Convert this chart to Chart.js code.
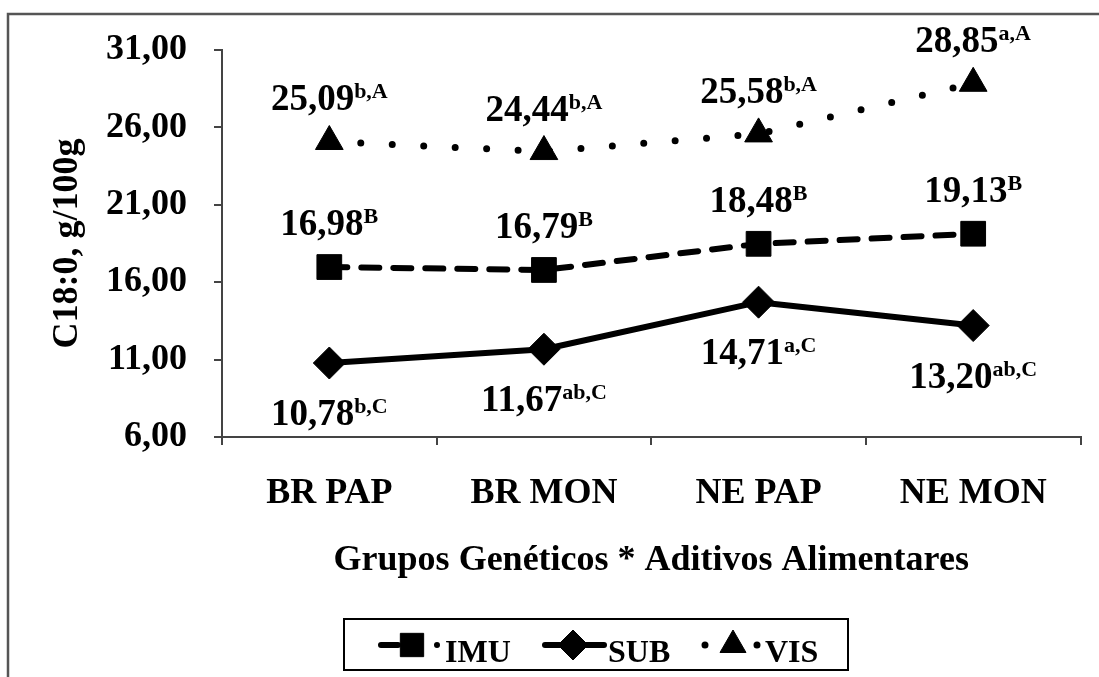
<!DOCTYPE html>
<html>
<head>
<meta charset="utf-8">
<script src="https://cdn.jsdelivr.net/npm/chart.js@4.4.1/dist/chart.umd.min.js"></script>
<style>
  html, body { margin: 0; padding: 0; background: #fff; }
  #wrap { width: 1099px; height: 677px; }
</style>
</head>
<body>
<div id="wrap"><canvas id="grafico" width="1099" height="677"></canvas></div>
<script>
// Dados do gráfico
const categorias = ['BR PAP', 'BR MON', 'NE PAP', 'NE MON'];
const serieImu = [16.98, 16.79, 18.48, 19.13];
const serieSub = [10.78, 11.67, 14.71, 13.20];
const serieVis = [25.09, 24.44, 25.58, 28.85];
const letrasImu = ['B', 'B', 'B', 'B'];
const letrasSub = ['b,C', 'ab,C', 'a,C', 'ab,C'];
const letrasVis = ['b,A', 'b,A', 'b,A', 'a,A'];
const ticksY = [6, 11, 16, 21, 26, 31];

const FONTE = '"Liberation Serif", "Times New Roman", serif';
const cinza = '#444444';

const fmt = v => v.toFixed(2).replace('.', ',');

// estilos de cada série (rótulo acima/abaixo do ponto)
const estilos = [
    { letras: letrasImu, desvio: -32, dash: [18, 14], larg: 6, ponto: 'rect', raio: 17.5 },
    { letras: letrasSub, desvio: 62, dash: [], larg: 6, ponto: 'rectRot', raio: 16 },
    { letras: letrasVis, desvio: -31, dash: [0, 31.5], larg: 7, ponto: 'triangle', raio: 16 }
];

// moldura externa
const moldura = {
    id: 'moldura',
    beforeDraw(chart) {
        const ctx = chart.ctx;
        ctx.save();
        ctx.fillStyle = '#fff';
        ctx.fillRect(0, 0, chart.width, chart.height);
        ctx.strokeStyle = '#555';
        ctx.lineWidth = 2.5;
        ctx.strokeRect(8, 14, 1300, 900);
        ctx.restore();
    }
};

// valores com sobrescrito
const rotulos = {
    id: 'rotulos',
    afterDatasetsDraw(chart) {
        const ctx = chart.ctx;
        ctx.save();
        ctx.fillStyle = '#000';
        ctx.textAlign = 'left';
        ctx.textBaseline = 'alphabetic';
        chart.data.datasets.forEach((ds, i) => {
            const est = estilos[i];
            chart.getDatasetMeta(i).data.forEach((pt, j) => {
                const principal = fmt(ds.data[j]);
                const sup = est.letras[j];
                ctx.font = 'bold 37px ' + FONTE;
                const w1 = ctx.measureText(principal).width;
                ctx.font = 'bold 22px ' + FONTE;
                const w2 = ctx.measureText(sup).width;
                const x0 = pt.x - (w1 + w2) / 2;
                const yb = pt.y + est.desvio;
                ctx.font = 'bold 37px ' + FONTE;
                ctx.fillText(principal, x0, yb);
                ctx.font = 'bold 22px ' + FONTE;
                ctx.fillText(sup, x0 + w1, yb - 12);
            });
        });
        ctx.restore();
    }
};

// legenda em caixa
const legenda = {
    id: 'legenda',
    afterDraw(chart) {
        const ctx = chart.ctx;
        const cy = 645;
        // amostra de linha: traço inicial, marcador, ponto final
        const itens = [
            { xa: 381, xb: 438, xm: 412, xt: 445, dash: [17, 39, 0, 100] },
            { xa: 545, xb: 604, xm: 573, xt: 608, dash: [] },
            { xa: 705, xb: 760, xm: 733, xt: 765, dash: [0, 52, 0, 100] }
        ];
        ctx.save();
        ctx.strokeStyle = '#000';
        ctx.lineWidth = 2;
        ctx.strokeRect(344, 619, 504, 51);
        chart.data.datasets.forEach((ds, i) => {
            const it = itens[i];
            const est = estilos[i];
            ctx.save();
            ctx.strokeStyle = '#000';
            ctx.lineWidth = est.larg;
            ctx.lineCap = 'round';
            ctx.setLineDash(it.dash);
            ctx.beginPath();
            ctx.moveTo(it.xa, cy);
            ctx.lineTo(it.xb, cy);
            ctx.stroke();
            ctx.restore();
            ctx.fillStyle = '#000';
            ctx.strokeStyle = '#000';
            ctx.lineWidth = 1;
            Chart.helpers.drawPoint(ctx, { pointStyle: est.ponto, radius: est.raio - 1, borderWidth: 1, rotation: 0 }, it.xm, cy);
            ctx.fillStyle = '#000';
            ctx.font = 'bold 32px ' + FONTE;
            ctx.textAlign = 'left';
            ctx.textBaseline = 'alphabetic';
            ctx.fillText(ds.label, it.xt, 662);
        });
        ctx.restore();
    }
};

const series = [serieImu, serieSub, serieVis];
const nomes = ['IMU', 'SUB', 'VIS'];

const datasets = series.map((dados, i) => ({
    label: nomes[i],
    data: dados,
    borderColor: '#000',
    backgroundColor: '#000',
    borderWidth: estilos[i].larg,
    borderDash: estilos[i].dash,
    borderCapStyle: 'round',
    borderJoinStyle: 'round',
    tension: 0,
    pointStyle: estilos[i].ponto,
    pointRadius: estilos[i].raio,
    pointBackgroundColor: '#000',
    pointBorderColor: '#000',
    pointBorderWidth: 1
}));

new Chart(document.getElementById('grafico'), {
    type: 'line',
    data: { labels: categorias, datasets },
    options: {
        responsive: false,
        devicePixelRatio: 1,
        animation: false,
        layout: { padding: { left: 20, top: 50, right: 17, bottom: 87 } },
        plugins: {
            legend: { display: false },
            tooltip: { enabled: false }
        },
        scales: {
            x: {
                offset: true,
                grid: { drawOnChartArea: false, drawTicks: true, tickLength: 8, color: cinza, lineWidth: 2, offset: true },
                border: { display: true, color: cinza, width: 2 },
                ticks: { color: '#000', font: { family: FONTE, size: 36, weight: 'bold' }, padding: 27, maxRotation: 0 },
                title: {
                    display: true,
                    text: 'Grupos Genéticos * Aditivos Alimentares',
                    color: '#000',
                    font: { family: FONTE, size: 36, weight: 'bold' },
                    padding: { top: 0, bottom: 8 }
                },
                afterFit(scale) { scale.height = 153; }
            },
            y: {
                min: 6,
                max: 31,
                afterBuildTicks(scale) { scale.ticks = ticksY.map(v => ({ value: v })); },
                grid: { drawOnChartArea: false, drawTicks: true, tickLength: 8, color: cinza, lineWidth: 2 },
                border: { display: true, color: cinza, width: 2 },
                ticks: {
                    color: '#000',
                    font: { family: FONTE, size: 36, weight: 'bold' },
                    padding: 27,
                    callback: v => fmt(v)
                },
                title: {
                    display: true,
                    text: 'C18:0, g/100g',
                    color: '#000',
                    font: { family: FONTE, size: 36, weight: 'bold' },
                    padding: { top: 26, bottom: 0 }
                },
                afterFit(scale) { scale.width = 202; }
            }
        }
    },
    plugins: [moldura, rotulos, legenda]
});
</script>
</body>
</html>
